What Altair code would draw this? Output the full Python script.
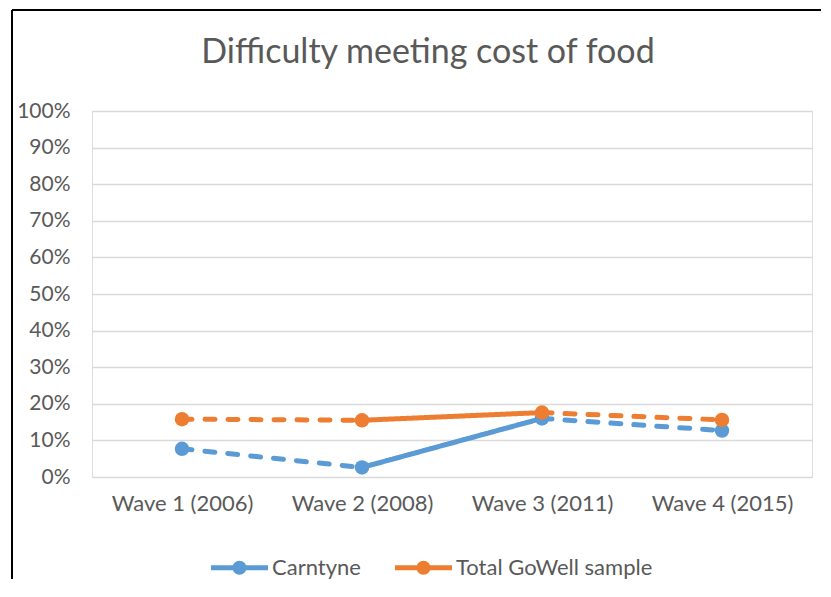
import altair as alt
import pandas as pd

waves = ["Wave 1 (2006)", "Wave 2 (2008)", "Wave 3 (2011)", "Wave 4 (2015)"]
series_names = ["Carntyne", "Total GoWell sample"]
carntyne = [7.7, 2.6, 16.0, 12.7]
total_gowell = [15.8, 15.5, 17.6, 15.6]
segment_styles = ["dashed", "solid", "dashed"]  # style of line between consecutive waves
colors = ["#5B9BD5", "#ED7D31"]
y_ticks = [0, 10, 20, 30, 40, 50, 60, 70, 80, 90, 100]

values_by_series = {"Carntyne": carntyne, "Total GoWell sample": total_gowell}

# point table
pt_rows = []
for s in series_names:
    for w, v in zip(waves, values_by_series[s]):
        pt_rows.append({"series": s, "wave": w, "value": v})
points_df = pd.DataFrame(pt_rows)

# segment table
seg_rows = []
for s in series_names:
    vals = values_by_series[s]
    for i, style in enumerate(segment_styles):
        seg_id = f"{s}-{i}"
        for j in (i, i + 1):
            seg_rows.append({"series": s, "seg": seg_id, "style": style,
                             "wave": waves[j], "value": vals[j]})
seg_df = pd.DataFrame(seg_rows)

FONT = "Lato"
TXT = "#595959"

legend_path = ("M-1,-0.09L1,-0.09L1,0.09L-1,0.09Z "
               "M-0.245,0A0.245,0.245 0 1,1 0.245,0A0.245,0.245 0 1,1 -0.245,0Z")

legend = alt.Legend(
    orient="none", legendX=119, legendY=428, direction="horizontal",
    title=None, symbolType=legend_path, symbolSize=3249,
    labelFont=FONT, labelFontSize=22, labelColor=TXT, labelOffset=4, labelLimit=400,
    columnPadding=34, padding=0, symbolStrokeWidth=0, symbolOpacity=1,
)

scale_c = alt.Scale(domain=series_names, range=colors)
color = alt.Color("series:N", scale=scale_c, legend=legend)

x = alt.X("wave:N", sort=waves, scale=alt.Scale(type="point", padding=0.5),
          axis=alt.Axis(title=None, labelFont=FONT, labelFontSize=22, labelColor=TXT,
                        labelPadding=16, ticks=False, domain=False, grid=False, labelAngle=0))
y = alt.Y("value:Q", scale=alt.Scale(domain=[0, 100], nice=False),
          axis=alt.Axis(title=None, values=y_ticks, labelExpr="datum.value + '%'",
                        labelFont=FONT, labelFontSize=21, labelColor=TXT, labelPadding=22,
                        ticks=False, domain=False, gridColor="#D9D9D9", gridWidth=1.3))

lines = alt.Chart(seg_df).mark_line(strokeWidth=5, strokeCap="round").encode(
    x=x, y=y, color=color, detail="seg:N",
    strokeDash=alt.StrokeDash("style:N", scale=alt.Scale(domain=["solid", "dashed"],
                                                          range=[[1, 0], [10, 13]]), legend=None),
)

pts = alt.Chart(points_df).mark_point(filled=True, size=210, opacity=1).encode(
    x=x, y=y, color=color,
)

# outer chart frame: only its top and left edges fall inside the picture
frame_df = pd.DataFrame({"k": [0]})
left_border = alt.Chart(frame_df).mark_rule(color="#000000", strokeWidth=2).encode(
    x=alt.value(-80), y=alt.value(-101), y2=alt.value(480))
top_border = alt.Chart(frame_df).mark_rule(color="#000000", strokeWidth=2).encode(
    x=alt.value(-80), x2=alt.value(729), y=alt.value(-101))

chart = alt.layer(lines, pts, left_border, top_border).properties(
    width=720, height=366,
    title=alt.TitleParams("Difficulty meeting cost of food", font=FONT, fontSize=34,
                          color=TXT, fontWeight="normal", anchor="middle",
                          baseline="alphabetic", offset=-88, dx=-24),
    autosize=alt.AutoSizeParams(type="none"),
    padding={"left": 84, "top": 103, "right": 11, "bottom": 102},
).configure_view(stroke=None).configure(background="white")

chart.save("out.html", embed_options={"renderer": "svg", "actions": False})
